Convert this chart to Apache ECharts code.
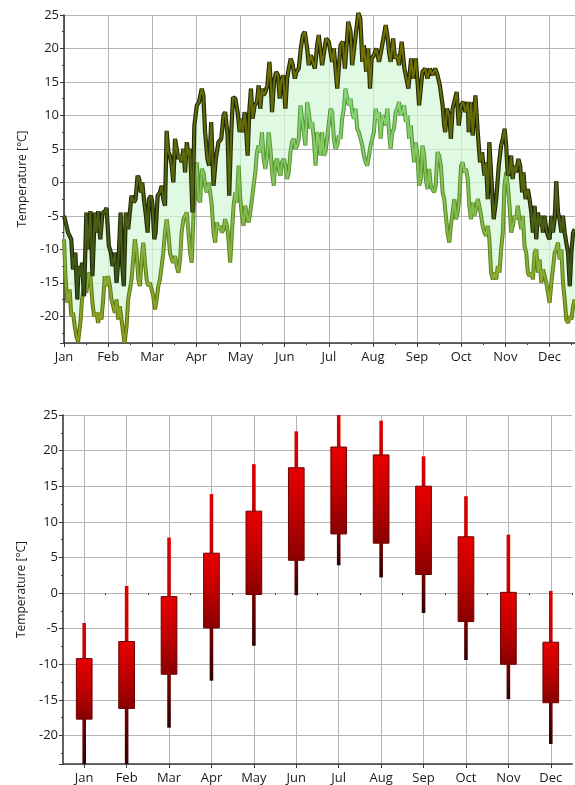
<!DOCTYPE html>
<html><head><meta charset="utf-8">
<script src="https://cdn.jsdelivr.net/npm/echarts@6/dist/echarts.min.js"></script>
<style>html,body{margin:0;padding:0;background:#fff}#c{width:575px;height:785px}</style>
</head><body><div id="c"></div>
<script>
// ---------- data ----------
const monthLabels = ['Jan','Feb','Mar','Apr','May','Jun','Jul','Aug','Sep','Oct','Nov','Dec'];
const axisTitle = 'Temperature [°C]';
const daysPerMonth = 30.4;

// daily maximum temperature: [day of year, °C]
const dailyHigh = [[0,-5],[2.8,-7.5],[5,-8.5],[6.2,-13],[7.8,-10.5],[9.2,-17.5],[10,-12.5],[11.5,-14],[12.4,-12],[13.8,-17],[15.4,-4.5],[16.6,-10],[18.2,-4.3],[19.6,-14],[21.2,-4.5],[22.4,-7.5],[23.5,-4.3],[25,-8.5],[26.5,-4.5],[28,-4.5],[29.3,-3.8],[30.9,-9.5],[32.3,-10.5],[33.4,-12.5],[35,-10.5],[36.2,-15],[37.8,-10.5],[39,-4.5],[40,-12],[41.2,-15.5],[42.6,-4.5],[44.2,-7],[45.4,-7],[46.5,-2],[48.2,-3],[49.3,-2.5],[50.7,1],[51.8,0.5],[53,-1.5],[53.9,0],[55.3,-3],[56.2,-4.5],[57.6,-7.5],[58.5,-2.5],[59.9,-2],[60.8,-3],[62.2,-8.5],[63.1,-7.5],[64.5,-2],[66.1,-1.5],[67.3,-0.5],[68.4,-2.5],[69.6,-3.5],[70.7,7.7],[71.9,4.5],[73,4],[74.2,2.5],[75.3,0],[76.5,6.5],[77.6,5],[78.8,3.5],[80,4],[81,3],[82.3,5],[83.4,1.5],[84.6,6],[85.7,4],[86.9,5],[88.5,-4.5],[89.8,8.5],[91.5,11.5],[93,12],[94.9,14],[96,13],[97.2,7.5],[98.8,3.5],[100,2.5],[101.4,9],[103,-0.5],[104.6,3.5],[106.4,6],[108.3,6.5],[109.9,10],[111,10.5],[112.7,7],[113.8,-2],[115.2,7.5],[116.4,12.7],[118,12.5],[119.6,10.5],[121,7.5],[122.1,9.5],[123.3,7.5],[124.4,10.5],[125.3,8.5],[126.5,4],[127.6,10.5],[128.8,14],[129.9,9.5],[131.3,11.5],[132.9,12],[134.1,14.5],[135.2,11],[136.4,14],[137.5,13],[138.7,13.5],[140.1,14.5],[141.5,18],[142.4,15],[143.3,10.5],[144.7,15],[146.1,16.5],[147.4,16],[148.6,12.5],[149.5,15],[150.9,16],[152.5,11],[153.7,15.5],[154.8,17],[156.2,18.5],[157.6,17.5],[159,15.5],[160.1,16.5],[161.7,17],[163.1,20],[164.5,22],[165.9,22.5],[167.5,20],[168.6,17.5],[170,19],[171.4,18],[172.8,17],[174.4,20.5],[175.5,22],[177.8,17.5],[180.6,21.5],[182.4,21],[184.7,18],[185.9,20],[188.2,14],[190.5,20.5],[192.1,21],[193.5,17],[195.8,24],[197.4,22.5],[198.5,17.5],[200.4,21],[202.7,25.3],[204.1,24.5],[205.5,18],[206.6,20.5],[208.2,16.5],[209.6,20],[210.8,14],[211.9,18.5],[213.5,19],[215.1,20],[217,18],[218.8,20],[221.6,23.5],[223,21.5],[223.9,19.5],[225,18],[226.7,21.5],[228,18.5],[229.6,19],[230.8,17.5],[232.6,21],[234.5,17],[235.9,15.5],[237.2,14],[239.1,18.5],[240.5,15.5],[242.3,18.5],[243.7,14.5],[244.6,11.5],[246.9,16.5],[248.8,17],[250.4,15.5],[252,17],[253.8,16],[255.7,17],[257.3,16],[258.9,14.5],[260.8,11.5],[261.9,8.5],[262.6,7.5],[263.8,11],[265.4,10],[266.5,6.5],[267.7,11],[270.5,13.5],[271.9,8.5],[273.5,11.5],[275.1,12],[276.5,10.5],[278.1,12],[278.8,7.5],[280.4,12],[281.5,7],[283.4,13],[285,7.5],[286.6,3],[288,4.5],[289.6,1],[290.7,3],[291.9,-2.5],[293,6],[294.7,-0.5],[296,-5.5],[297.7,-2.5],[299.5,2.5],[301.1,5.5],[302.3,6.5],[303.5,8],[304.6,5.5],[305.7,1],[306.9,1.5],[308,4],[309,0.5],[310.3,2.5],[311.5,1.5],[313,3.5],[314.2,2.5],[315.6,-1.5],[316.5,1.5],[317.9,-2.5],[319.5,-1],[320.7,-2.5],[321.9,-4.5],[323,-7.5],[324.2,-3.5],[325.3,-8.5],[326.5,-4.5],[327.6,-6.5],[328.8,-5],[329.9,-7.5],[331,-5],[332.2,-7],[333.4,-8],[334.5,-8.5],[335.7,-5],[336.8,-7.5],[338,-5.5],[339.1,0.2],[340.3,-4.5],[341.4,-5.5],[342.6,-7.5],[343.7,-5],[344.9,-7.5],[346,-9],[347.2,-10.5],[348.4,-15.5],[349.5,-10.5],[350.7,-7.5],[351.8,-7]];

// daily minimum temperature: [day of year, °C]
const dailyLow = [[0,-8.5],[1,-14],[2.3,-18],[3.9,-16],[5,-20],[6.2,-19.5],[7.4,-21.5],[8.5,-23],[9.7,-23.8],[11.5,-20.5],[12.4,-17.5],[13.8,-15.5],[15.4,-16.5],[17,-13.5],[18.2,-14],[19.6,-18],[20.7,-20],[22.4,-19.5],[23.5,-21],[24.7,-19.5],[25.8,-20.5],[27,-17.5],[28.1,-14],[29.3,-15.5],[30.4,-14],[31.6,-15.5],[32.7,-17.5],[33.9,-18.5],[35,-19.5],[36.2,-17.5],[37.3,-20.5],[38.5,-18.5],[39.6,-20.5],[40.8,-22.5],[41.7,-24],[43.1,-21.5],[44.2,-17.5],[45.4,-16],[46.5,-14.5],[47.7,-11.5],[48.8,-8.5],[50,-10.5],[51.2,-14.5],[52.3,-15.5],[53.5,-11.5],[54.6,-9],[55.8,-12],[56.9,-14.5],[58.1,-15.5],[59.2,-15],[60.4,-16],[61.5,-17],[62.7,-19],[63.8,-17.5],[65,-15.5],[66.1,-14.5],[67.3,-12.5],[68.4,-10.5],[69.6,-7.5],[70.7,-5.5],[71.9,-7.5],[73,-10.5],[74.2,-11.5],[75.3,-12],[76.5,-11],[77.6,-12.5],[78.8,-13.5],[80,-11.5],[81,-7.5],[82.3,-5.5],[83.4,-5],[84.6,-4.5],[85.7,-7.5],[86.9,-10.5],[88,-12],[89.2,-5],[90.3,0.5],[91.5,3],[92.6,-2.5],[93.8,-3],[94.9,2],[96.1,1.5],[97.2,-0.5],[98.4,-1.5],[99.5,0],[100.7,-1.5],[101.8,-3.5],[103,-7.5],[104.1,-9],[105.3,-6],[106.4,-7],[107.6,-6.5],[108.7,-7.5],[109.9,-7],[111,-5.5],[112.2,-6.5],[113.3,-8.5],[114.5,-12],[115.7,-7.5],[116.8,-3.5],[118,-1.5],[119.1,-3],[120.3,2.5],[121.4,-2.5],[122.6,-5],[123.7,-6.5],[124.9,-3.5],[126,-5],[127.2,-6],[128.3,-4.5],[129.5,-2.5],[130.6,-0.5],[131.8,1.5],[132.9,4.5],[134.1,5.5],[135.2,4.5],[136.4,7.5],[137.5,3.5],[138.7,2],[139.9,4],[141,7.5],[142.2,5],[143.3,1.5],[144.5,-0.5],[145.6,3],[146.8,3.5],[147.9,2],[149.1,1],[150.2,3],[151.4,3.5],[152.5,2.5],[153.7,0.5],[154.8,1.5],[156,4.5],[157.1,6],[158.3,6.5],[159.4,5],[160.6,5.5],[161.7,6.5],[162.9,11.5],[164,9.5],[165.2,7.5],[166.3,5.5],[167.5,12],[168.6,10.5],[169.8,8],[171,9],[172.1,6.5],[173.3,2.5],[174.4,7.5],[175.5,6.5],[176.7,4],[177.8,7.5],[179,4],[180.1,4.5],[182,8],[183.6,11],[184.7,10.5],[185.9,6.5],[187,5],[188.2,5.5],[189.3,7],[190.5,6.5],[191.6,9.5],[192.8,11],[193.9,14],[195.1,12.5],[196.2,11.5],[197.4,12.5],[198.5,10.5],[199.7,9.5],[200.8,11],[202,8],[203.1,7.5],[204.3,6.5],[205.5,5.5],[206.6,4],[207.8,3],[208.9,2.5],[210.1,4],[211.2,5.5],[212.4,6.5],[213.5,7.5],[214.7,11],[215.8,9.5],[217,10.5],[218.1,6.5],[219.3,10],[220.4,9.5],[221.6,8.5],[222.7,11],[223.9,7.5],[225,5],[226.2,7.5],[227.3,8],[228.5,10.5],[229.6,11],[230.8,12],[231.9,10],[233.1,10.5],[234.3,11.5],[235.4,9],[236.6,10],[237.7,6.5],[238.9,8.5],[240,5.5],[241.2,3],[242.3,6],[243.5,4],[244.6,-0.5],[245.8,0.5],[246.9,5.5],[248.1,4],[249.2,0.5],[250.4,-1],[251.5,2],[252.7,-0.5],[253.8,-1],[255,-1.5],[256.1,-0.5],[257.3,4.5],[258.4,4],[259.6,2.5],[260.8,-1.5],[261.9,-2.5],[263,-5],[264.2,-7.5],[265.4,-9],[266.5,-6.5],[267.7,-4.5],[268.9,-2.5],[270,-5.5],[271.2,-4.5],[272.3,-2.5],[273.5,2.5],[274.6,3],[275.8,1.5],[276.9,2],[278.1,0.5],[279.2,-3.5],[280.4,-5.5],[281.5,-3],[282.7,-5],[283.8,-4],[285,-2.5],[286.1,-3.5],[287.3,-5],[288.4,-6.5],[289.6,-7.5],[290.7,-8],[291.9,-6.5],[293,-8.5],[294.2,-13.5],[295.4,-14.5],[296.5,-13.5],[297.7,-14.5],[298.8,-12.5],[300,-13.5],[301.1,-10],[302.3,-7.5],[303.4,-0.5],[304.6,1.5],[305.7,-0.5],[306.9,-3.5],[308,-7.5],[309.2,-6.5],[310.3,-5],[311.5,-5.5],[312.6,-3.5],[313.8,-5.5],[314.9,-7],[316.1,-5],[317.2,-9.5],[318.4,-10.5],[319.5,-13.5],[320.7,-14],[321.9,-13.5],[323,-14.5],[324.2,-10.5],[325.3,-10],[326.5,-13.5],[327.6,-11.5],[328.8,-15],[329.9,-13],[331.1,-14],[332.2,-15],[333.4,-16.5],[334.5,-18],[335.7,-15],[336.8,-13],[338,-10.5],[339.1,-10],[340.3,-9],[341.4,-11.5],[342.6,-10],[343.7,-15],[344.9,-17.5],[346,-20.5],[347.2,-21],[348.4,-20],[349.5,-20.5],[350.7,-18.5],[351.8,-17.5]];

// monthly statistics (°C)
const boxTop      = [-9.2, -6.8, -0.5,  5.6, 11.5, 17.6, 20.5, 19.4, 15.0,  7.9,   0.1,  -6.9];
const boxBottom   = [-17.7,-16.2,-11.4, -4.9, -0.2,  4.6,  8.3,  7.0,  2.6, -4.0, -10.0, -15.4];
const whiskerHigh = [-4.2,  1.0,  7.8, 13.9, 18.1, 22.7, 25.4, 24.2, 19.2, 13.6,   8.2,   0.3];
const whiskerLow  = [-24.5,-24.5,-18.9,-12.3, -7.4, -0.3,  3.9,  2.2, -2.8, -9.4, -14.9, -21.2];

// ---------- chart ----------
const FONT = 'Open Sans';
const G = echarts.graphic;
const chart = echarts.init(document.getElementById('c'), null, {renderer:'canvas'});

const axisLine = {show:true, onZero:false, lineStyle:{color:'#3a3a3a', width:1.6}};
const gridLine = {show:true, lineStyle:{color:'#b4b4b4', width:1}};
const lab = {color:'#1a1a1a', fontFamily:FONT, fontSize:13};

function yAx(gi){
  return {
    gridIndex:gi, type:'value', min:-24, max:25, splitNumber:10,
    name:axisTitle, nameLocation:'middle', nameGap:34,
    nameTextStyle:{color:'#1a1a1a', fontFamily:FONT, fontSize:12},
    axisLine:axisLine, axisTick:{show:true, length:4, lineStyle:{color:'#3a3a3a'}},
    minorTick:{show:true, splitNumber:2, length:2, lineStyle:{color:'#3a3a3a'}},
    splitLine:gridLine,
    axisLabel:Object.assign({margin:5, showMinLabel:false}, lab)
  };
}

const option = {
  animation:false,
  backgroundColor:'#fff',
  grid:[
    {left:64, right:0, top:15, height:328},
    {left:63, right:3, top:415, height:350}
  ],
  xAxis:[
    {
      gridIndex:0, type:'value', min:0, max:352, interval:daysPerMonth,
      axisLine:axisLine,
      axisTick:{show:true, length:4, lineStyle:{color:'#3a3a3a'}},
      minorTick:{show:true, splitNumber:2, length:2, lineStyle:{color:'#3a3a3a'}},
      splitLine:gridLine,
      axisLabel:Object.assign({margin:8, showMaxLabel:false, formatter:function(v){
        const k = v/daysPerMonth, r = Math.round(k);
        return (Math.abs(k-r) < 0.01 && r < monthLabels.length) ? monthLabels[r] : '';
      }}, lab)
    },
    {
      gridIndex:1, type:'category', data:monthLabels, boundaryGap:true,
      axisLine:axisLine,
      axisTick:{show:true, alignWithLabel:true, length:4, lineStyle:{color:'#3a3a3a'}},
      splitLine:{show:true, alignWithLabel:true, lineStyle:{color:'#b4b4b4', width:1}},
      axisLabel:Object.assign({margin:8, interval:0}, lab)
    },
    {
      gridIndex:1, type:'category', data:monthLabels, boundaryGap:true, position:'bottom', offset:0,
      axisLine:{show:false}, axisLabel:{show:false}, splitLine:{show:false},
      axisTick:{show:true, length:2, lineStyle:{color:'#3a3a3a'}}
    }
  ],
  yAxis:[yAx(0), yAx(1)],
  series:[
    // band between daily high and daily low
    {
      type:'custom', xAxisIndex:0, yAxisIndex:0, clip:true, silent:true, z:1,
      data:[[0,0]], encode:{x:0, y:1},
      renderItem:function(params, api){
        if (params.dataIndex !== 0) return null;
        const pts = dailyHigh.map(p => api.coord(p))
          .concat(dailyLow.slice().reverse().map(p => api.coord(p)));
        return {type:'polygon', shape:{points:pts}, style:{fill:'rgba(210,246,214,0.7)'}};
      }
    },
    // low line (outline + inner)
    {
      type:'line', xAxisIndex:0, yAxisIndex:0, data:dailyLow, showSymbol:false, symbol:'none', z:3, clip:false,
      lineStyle:{width:4, color:new G.LinearGradient(0,0,0,1,[
        {offset:0, color:'#4f9b44'}, {offset:0.5, color:'#5e8a24'}, {offset:1, color:'#5d6a08'}])}
    },
    {
      type:'line', xAxisIndex:0, yAxisIndex:0, data:dailyLow, showSymbol:false, symbol:'none', z:4, clip:false,
      lineStyle:{width:2, color:new G.LinearGradient(0,0,0,1,[
        {offset:0, color:'#8ad97c'}, {offset:0.45, color:'#82be50'}, {offset:1, color:'#8c9c18'}])}
    },
    // high line (outline + inner)
    {
      type:'line', xAxisIndex:0, yAxisIndex:0, data:dailyHigh, showSymbol:false, symbol:'none', z:5, clip:false,
      lineStyle:{width:4.2, color:'#1f2806'}
    },
    {
      type:'line', xAxisIndex:0, yAxisIndex:0, data:dailyHigh, showSymbol:false, symbol:'none', z:6, clip:false,
      lineStyle:{width:2, color:new G.LinearGradient(0,0,0,1,[
        {offset:0, color:'#7a7200'}, {offset:0.5, color:'#5f6a0c'}, {offset:1, color:'#34521c'}])}
    },
    // monthly boxes with whiskers
    {
      type:'custom', xAxisIndex:1, yAxisIndex:1, clip:true, z:5,
      data:monthLabels.map((m,i) => [i, boxTop[i], boxBottom[i], whiskerHigh[i], whiskerLow[i]]),
      encode:{x:0, y:[1,2,3,4]},
      renderItem:function(params, api){
        const i = api.value(0);
        const top = api.coord([i, api.value(1)]);
        const bot = api.coord([i, api.value(2)]);
        const hi  = api.coord([i, api.value(3)]);
        const lo  = api.coord([i, api.value(4)]);
        const bw = api.size([1,0])[0]*0.37;
        const x = top[0];
        return {type:'group', children:[
          {type:'line', shape:{x1:x, y1:hi[1], x2:x, y2:top[1]},
           style:{stroke:new G.LinearGradient(0,0,0,1,[{offset:0,color:'#e00000'},{offset:1,color:'#c40000'}]), lineWidth:3.6}},
          {type:'line', shape:{x1:x, y1:bot[1], x2:x, y2:lo[1]},
           style:{stroke:new G.LinearGradient(0,0,0,1,[{offset:0,color:'#7a0000'},{offset:1,color:'#2a0000'}]), lineWidth:3.6}},
          {type:'rect', shape:{x:x-bw/2, y:top[1], width:bw, height:bot[1]-top[1]},
           style:{fill:new G.LinearGradient(0,0,0,1,[{offset:0,color:'#e80000'},{offset:0.5,color:'#c00000'},{offset:1,color:'#880000'}]),
                  stroke:'#6a0000', lineWidth:1}}
        ]};
      }
    }
  ]
};
chart.setOption(option);
</script>
</body></html>
